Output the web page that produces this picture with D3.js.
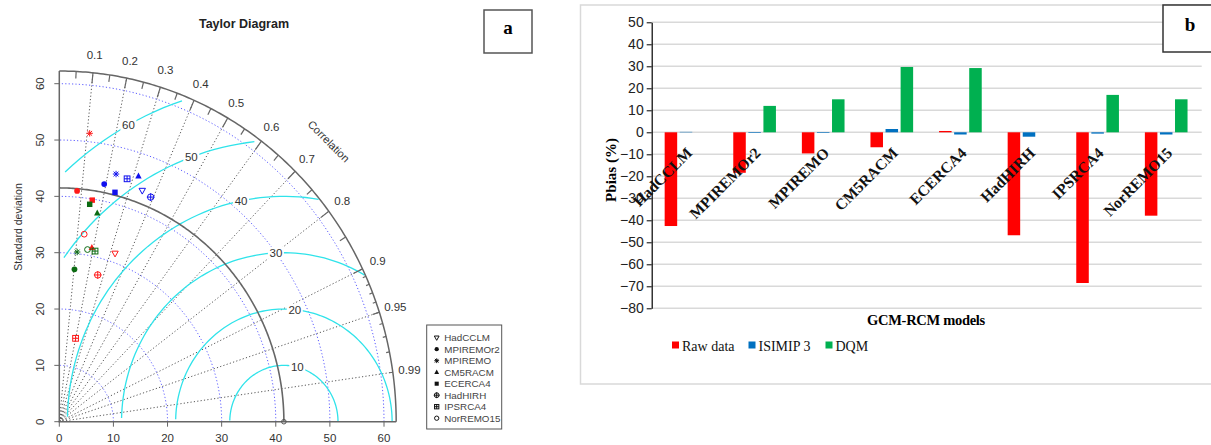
<!DOCTYPE html>
<html><head><meta charset="utf-8">
<script src="https://cdn.jsdelivr.net/npm/d3@7"></script>
<style>body{margin:0;background:#fff}svg{display:block}</style>
</head><body>
<svg id="chart" width="1211" height="445"></svg>
<script>
// model order is the same in both panels
const models = ["HadCCLM", "MPIREMOr2", "MPIREMO", "CM5RACM", "ECERCA4", "HadHIRH", "IPSRCA4", "NorREMO15"];
const markers = ["dtri", "dot", "star", "tri", "square", "circplus", "sqplus", "ring"];

// panel a: Taylor diagram (standard deviation + correlation per model)
const refSd = 41.5;
const rawSd  = [31.6, 41.1, 51.5, 31.5, 39.8, 27.0, 15.1, 33.6];
const rawCor = [0.326, 0.080, 0.109, 0.191, 0.153, 0.263, 0.199, 0.137];
const isiSd  = [43.8, 43.0, 45.2, 46.0, 42.0, 43.3, 44.9, null];
const isiCor = [0.350, 0.193, 0.232, 0.318, 0.245, 0.390, 0.279, null];
const dqmSd  = [null, 27.2, 30.3, 37.7, 39.0, null, 31.0, 31.0];
const dqmCor = [null, 0.103, 0.109, 0.186, 0.144, null, 0.213, 0.168];
const sdTicks = [0, 10, 20, 30, 40, 50, 60];
const rmsLevels = [10, 20, 30, 40, 50, 60];
const corLabels = [0.1, 0.2, 0.3, 0.4, 0.5, 0.6, 0.7, 0.8, 0.9, 0.95, 0.99];

// panel b: Pbias (%)
const series = ["Raw data", "ISIMIP 3", "DQM"];
const rawPbias = [-42.6, -18.4, -9.6, -6.8, 0.6, -46.8, -68.5, -37.9];
const isiPbias = [0.2, -0.3, -0.3, 1.5, -1.0, -2.0, -0.6, -1.0];
const dqmPbias = [0, 12.0, 15.0, 29.7, 29.2, 0, 17.0, 15.0];
const pbiasTicks = d3.range(-80, 51, 10);

const svg = d3.select("#chart");
const SANS = "'Liberation Sans', Arial, sans-serif";
const SERIF = "'Liberation Serif', 'Times New Roman', serif";

// ---------------- panel a ----------------
const maxSd = 1.5 * refSd;
const tx = d3.scaleLinear().domain([0, 60]).range([59.3, 384]);
const ty = d3.scaleLinear().domain([0, 60]).range([421.7, 83.7]);
const P = (r, a) => [tx(r * Math.cos(a)), ty(r * Math.sin(a))];
const line = d3.line();
const ga = svg.append("g");
const quarter = d3.range(0, 181).map(d => d / 2 * Math.PI / 180);

// correlation rays
corLabels.forEach(c => {
  ga.append("path").attr("d", line([P(0, 0), P(maxSd, Math.acos(c))]))
    .attr("stroke", "#444").attr("stroke-width", 0.9).attr("stroke-dasharray", "1.2,2.2").attr("fill", "none");
});

// sd arcs
sdTicks.slice(1).forEach(r => {
  ga.append("path").attr("d", line(quarter.map(a => P(r, a))))
    .attr("stroke", "#5b5bff").attr("stroke-width", 1).attr("stroke-dasharray", "1.2,2.2").attr("fill", "none");
});

// centred rms contours (plotrix style)
const angs = d3.range(0, 105).map(i => i * 0.03);
rmsLevels.forEach((g, gi) => {
  const xs = angs.map(a => Math.cos(a) * g + refSd);
  const ys = angs.map(a => Math.sin(a) * g);
  let end = xs.findIndex(v => v < 0); end = end < 0 ? 104 : end - 1;
  let start = -1; xs.forEach((v, i) => { if (v * v + ys[i] * ys[i] > maxSd * maxSd) start = i; });
  start += 1;
  ga.append("path").attr("d", line(d3.range(start, end + 1).map(i => [tx(xs[i]), ty(ys[i])])))
    .attr("stroke", "#30e3ea").attr("stroke-width", 1.3).attr("fill", "none");
  const li = 44 + gi * 5;
  if (xs[li] > 0) {
    const lx = tx(xs[li]), ly = ty(ys[li]);
    ga.append("rect").attr("x", lx - 8).attr("y", ly - 6).attr("width", 16).attr("height", 12).attr("fill", "#fff");
    ga.append("text").attr("x", lx).attr("y", ly + 4).attr("text-anchor", "middle")
      .attr("font-family", SANS).attr("font-size", 11.5).attr("fill", "#333").text(g);
  }
});

// frame: axes, outer arc, reference arc
const frameCol = "#666";
ga.append("path").attr("d", line([P(maxSd, Math.PI / 2), P(0, 0), P(maxSd, 0)]))
  .attr("stroke", frameCol).attr("stroke-width", 1.5).attr("fill", "none");
ga.append("path").attr("d", line(quarter.map(a => P(maxSd, a))))
  .attr("stroke", frameCol).attr("stroke-width", 1.5).attr("fill", "none");
ga.append("path").attr("d", line(quarter.map(a => P(refSd, a))))
  .attr("stroke", frameCol).attr("stroke-width", 1.6).attr("fill", "none");

// correlation ticks on the outer arc
const tickSets = [
  [d3.range(1, 10).map(d => d / 10), 0.97],
  [d3.range(0, 10).map(d => 0.05 + d / 10), 0.98],
  [d3.range(1, 10).map(d => 0.9 + d / 100), 0.99]
];
tickSets.forEach(([vals, f]) => vals.forEach(c => {
  const a = Math.acos(c);
  ga.append("path").attr("d", line([P(maxSd, a), P(maxSd * f, a)]))
    .attr("stroke", frameCol).attr("stroke-width", 1.2);
}));
corLabels.forEach(c => {
  const [x, y] = P(maxSd * 1.05, Math.acos(c));
  ga.append("text").attr("x", x).attr("y", y + 4).attr("text-anchor", "middle")
    .attr("font-family", SANS).attr("font-size", 11.5).attr("fill", "#333").text(c);
});
{
  const [x, y] = [tx(maxSd * 0.8), ty(maxSd * 0.8)];
  ga.append("text").attr("transform", `translate(${x},${y}) rotate(45)`).attr("text-anchor", "middle")
    .attr("dy", 4).attr("font-family", SANS).attr("font-size", 11).attr("fill", "#333").text("Correlation");
}

// sd axis ticks and labels
sdTicks.forEach(v => {
  ga.append("line").attr("x1", tx(v)).attr("x2", tx(v)).attr("y1", ty(0)).attr("y2", ty(0) + 5).attr("stroke", frameCol);
  ga.append("text").attr("x", tx(v)).attr("y", 442).attr("text-anchor", "middle")
    .attr("font-family", SANS).attr("font-size", 11.5).attr("fill", "#333").text(v);
  ga.append("line").attr("x1", tx(0)).attr("x2", tx(0) - 5).attr("y1", ty(v)).attr("y2", ty(v)).attr("stroke", frameCol);
  ga.append("text").attr("transform", `translate(44,${ty(v)}) rotate(-90)`).attr("text-anchor", "middle")
    .attr("font-family", SANS).attr("font-size", 11.5).attr("fill", "#333").text(v);
});
ga.append("text").attr("transform", "translate(22,227) rotate(-90)").attr("text-anchor", "middle")
  .attr("font-family", SANS).attr("font-size", 10.5).attr("fill", "#333").text("Standard deviation");
ga.append("text").attr("x", 244).attr("y", 28).attr("text-anchor", "middle")
  .attr("font-family", SANS).attr("font-weight", "bold").attr("font-size", 12.5).attr("fill", "#222").text("Taylor Diagram");

// markers
function marker(g, type, x, y, col, s) {
  const st = { stroke: col, "stroke-width": 1, fill: "none" };
  const add = (tag, attrs, filled) => {
    const e = g.append(tag);
    Object.entries(Object.assign({}, st, filled ? { fill: col, stroke: "none" } : {}, attrs)).forEach(([k, v]) => e.attr(k, v));
  };
  if (type === "dtri") add("path", { d: `M${x - s},${y - s * 0.7}L${x + s},${y - s * 0.7}L${x},${y + s * 1.1}Z` });
  if (type === "tri") add("path", { d: `M${x - s},${y + s * 0.8}L${x + s},${y + s * 0.8}L${x},${y - s * 1.1}Z` }, true);
  if (type === "dot") add("circle", { cx: x, cy: y, r: s * 0.9 }, true);
  if (type === "ring") add("circle", { cx: x, cy: y, r: s * 0.9 });
  if (type === "square") add("rect", { x: x - s * 0.85, y: y - s * 0.85, width: s * 1.7, height: s * 1.7 }, true);
  if (type === "star") add("path", { d: `M${x - s},${y}H${x + s}M${x},${y - s}V${y + s}M${x - s * 0.75},${y - s * 0.75}L${x + s * 0.75},${y + s * 0.75}M${x - s * 0.75},${y + s * 0.75}L${x + s * 0.75},${y - s * 0.75}` });
  if (type === "circplus") {
    add("circle", { cx: x, cy: y, r: s });
    add("path", { d: `M${x - s * 1.2},${y}H${x + s * 1.2}M${x},${y - s * 1.2}V${y + s * 1.2}` });
  }
  if (type === "sqplus") {
    add("rect", { x: x - s * 0.9, y: y - s * 0.9, width: s * 1.8, height: s * 1.8 });
    add("path", { d: `M${x - s * 0.9},${y}H${x + s * 0.9}M${x},${y - s * 0.9}V${y + s * 0.9}` });
  }
}

// observed reference point
ga.append("circle").attr("cx", tx(refSd)).attr("cy", ty(0)).attr("r", 2.3).attr("fill", "none").attr("stroke", "#555");

const taylorSets = [
  { sd: rawSd, cor: rawCor, col: "#ff1a1a" },
  { sd: isiSd, cor: isiCor, col: "#1010ee" },
  { sd: dqmSd, cor: dqmCor, col: "#0b6b12" }
];
taylorSets.forEach(set => set.sd.forEach((sd, i) => {
  if (sd == null) return;
  const [x, y] = P(sd, Math.acos(set.cor[i]));
  marker(ga, markers[i], x, y, set.col, 3.2);
}));

// legend
const lg = ga.append("g");
lg.append("rect").attr("x", 426.7).attr("y", 325).attr("width", 75).attr("height", 104)
  .attr("fill", "#fff").attr("stroke", "#555").attr("stroke-width", 1);
models.forEach((m, i) => {
  const yy = 337.7 + i * 11.5;
  marker(lg, markers[i], 436.7, yy, "#111", 2.4);
  lg.append("text").attr("x", 444.3).attr("y", yy + 3.5).attr("font-family", SANS)
    .attr("font-size", 9.8).attr("fill", "#444").text(m);
});

// panel label a
svg.append("rect").attr("x", 484).attr("y", 10).attr("width", 48).attr("height", 43)
  .attr("fill", "#fff").attr("stroke", "#555").attr("stroke-width", 1.5);
svg.append("text").attr("x", 508).attr("y", 34).attr("text-anchor", "middle")
  .attr("font-family", SERIF).attr("font-weight", "bold").attr("font-size", 19).text("a");

// ---------------- panel b ----------------
const gb = svg.append("g");
gb.append("rect").attr("x", 580.5).attr("y", 5).attr("width", 650).attr("height", 379)
  .attr("fill", "#fff").attr("stroke", "#d9d9d9").attr("stroke-width", 1.5);

const yb = d3.scaleLinear().domain([-80, 50]).range([308.3, 22.3]);
const x0 = d3.scaleBand().domain(models).range([651.7, 1200.5]).paddingInner(0.378).paddingOuter(0.189);
const x1 = d3.scaleBand().domain(series).range([0, x0.bandwidth()]).paddingInner(0.17);
const colors = d3.scaleOrdinal().domain(series).range(["#ff0000", "#0070c0", "#00b050"]);

gb.selectAll(".grid").data(pbiasTicks).enter().append("line")
  .attr("x1", 651.7).attr("x2", 1201.7).attr("y1", d => yb(d)).attr("y2", d => yb(d))
  .attr("stroke", "#d9d9d9").attr("stroke-width", 1.4);

const rows = models.map((m, i) => ({ m, vals: [rawPbias[i], isiPbias[i], dqmPbias[i]] }));
const grp = gb.selectAll(".grp").data(rows).enter().append("g")
  .attr("transform", d => `translate(${x0(d.m)},0)`);
grp.selectAll("rect").data(d => d.vals.map((v, k) => ({ s: series[k], v }))).enter().append("rect")
  .attr("x", d => x1(d.s)).attr("width", x1.bandwidth())
  .attr("y", d => Math.min(yb(d.v), yb(0))).attr("height", d => Math.abs(yb(d.v) - yb(0)))
  .attr("fill", d => colors(d.s));

const ax = gb.append("g").attr("transform", "translate(651.7,0)")
  .call(d3.axisLeft(yb).tickValues(pbiasTicks).tickSize(5).tickSizeOuter(0));
ax.select(".domain").attr("stroke", "#000").attr("stroke-width", 1.2);
ax.selectAll(".tick line").attr("stroke", "#000");
ax.selectAll(".tick text").attr("font-family", "'Liberation Sans Narrow', 'Arial Narrow', sans-serif")
  .attr("font-stretch", "condensed").attr("font-size", 14).attr("fill", "#222");

gb.selectAll(".cat").data(models).enter().append("text")
  .attr("transform", d => `translate(${x0(d) + x0.bandwidth() / 2 + 7},154) rotate(-45)`)
  .attr("text-anchor", "end").attr("font-family", SERIF).attr("font-weight", "bold")
  .attr("font-size", 15.5).attr("fill", "#111").text(d => d);

gb.append("text").attr("transform", "translate(616,170) rotate(-90)").attr("text-anchor", "middle")
  .attr("font-family", SERIF).attr("font-weight", "bold").attr("font-size", 15).text("Pbias (%)");
gb.append("text").attr("x", 926).attr("y", 325).attr("text-anchor", "middle")
  .attr("font-family", SERIF).attr("font-weight", "bold").attr("font-size", 14.5)
  .attr("letter-spacing", -0.3).text("GCM-RCM models");

const legX = [672, 748.5, 825.5];
series.forEach((s, k) => {
  gb.append("rect").attr("x", legX[k]).attr("y", 341.5).attr("width", 7).attr("height", 7).attr("fill", colors(s));
  gb.append("text").attr("x", legX[k] + 10).attr("y", 350.5).attr("font-family", SERIF)
    .attr("font-size", 14).attr("fill", "#111").text(s);
});

// panel label b
svg.append("rect").attr("x", 1163).attr("y", 5).attr("width", 60).attr("height", 47)
  .attr("fill", "#fff").attr("stroke", "#333").attr("stroke-width", 1.5);
svg.append("text").attr("x", 1190).attr("y", 31).attr("text-anchor", "middle")
  .attr("font-family", SERIF).attr("font-weight", "bold").attr("font-size", 19).text("b");
</script>
</body></html>
